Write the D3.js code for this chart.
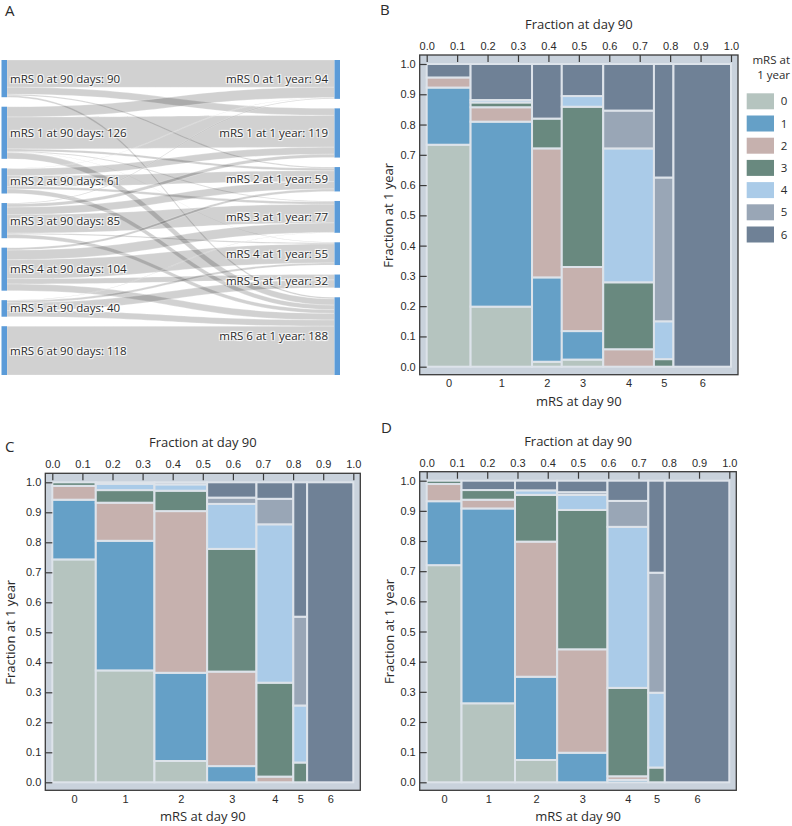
<!DOCTYPE html>
<html>
<head>
<meta charset="utf-8">
<script src="https://cdn.jsdelivr.net/npm/d3@7"></script>
<style>
  html, body { margin: 0; padding: 0; background: #fff; }
  svg { display: block; font-family: "Open Sans", "Noto Sans", sans-serif; }
  .sk-label { text-shadow: 1px 1px 1px #fff, -1px -1px 1px #fff, 1px -1px 1px #fff, -1px 1px 1px #fff; }
</style>
</head>
<body>
<svg id="chart" width="792" height="826"></svg>
<script>
// ---------------- DATA ----------------
const mrsLevels = ["0", "1", "2", "3", "4", "5", "6"];
const levelColors = ["#b5c4bf", "#65a0c7", "#c6b1ae", "#69897f", "#aacbe8", "#99a6b6", "#6f8196"];
const tickValues = [0, 0.1, 0.2, 0.3, 0.4, 0.5, 0.6, 0.7, 0.8, 0.9, 1.0];

// Panel A and B: patients, rows = mRS at 90 days, columns = mRS at 1 year
const transitions = [
  [66, 17, 3, 0, 0, 0, 4],
  [25, 77, 6, 2, 1, 0, 15],
  [1, 17, 26, 6, 0, 0, 11],
  [2, 8, 18, 45, 3, 0, 9],
  [0, 0, 6, 23, 46, 13, 16],
  [0, 0, 0, 1, 5, 19, 15],
  [0, 0, 0, 0, 0, 0, 118]
];

// Panel C: column widths (% at day 90) and % at 1 year within each column
const colWidthC = [14.45, 19.49, 17.50, 16.39, 12.24, 4.59, 15.34];
const segC = [
  [74.3, 19.9, 4.6, 1.2, 0, 0, 0],
  [37.3, 43.2, 12.7, 4.2, 2.1, 0, 0.5],
  [7.1, 29.4, 53.9, 6.8, 2.1, 0, 0.7],
  [0, 5.4, 31.5, 40.9, 15.0, 2.1, 5.1],
  [0, 0, 1.9, 31.3, 52.8, 8.5, 5.5],
  [0, 0, 0, 6.6, 19.0, 29.6, 44.8],
  [0, 0, 0, 0, 0, 0, 100]
];

// Panel D
const colWidthD = [11.51, 17.67, 13.94, 16.63, 13.49, 5.45, 21.31];
const segD = [
  [72.0, 21.2, 5.7, 1.1, 0, 0, 0],
  [26.2, 64.6, 2.9, 3.2, 0, 0, 3.1],
  [7.4, 27.6, 44.8, 15.5, 1.5, 0, 3.2],
  [0, 9.8, 34.3, 46.2, 5.0, 0.9, 3.8],
  [0, 0.8, 1.2, 29.3, 53.4, 8.6, 6.7],
  [0, 0, 0, 4.9, 24.8, 39.8, 30.5],
  [0, 0, 0, 0, 0, 0, 100]
];

// ---------------- DRAW ----------------
const svg = d3.select("#chart");
const textColor = "#2b2b2b";

// Panel letters
[["A", 5, 16], ["B", 380, 15], ["C", 5, 452], ["D", 381, 433]].forEach(([t, x, y]) => {
  svg.append("text").attr("x", x).attr("y", y).attr("font-size", 15)
    .attr("fill", textColor).text(t);
});

// ---------- Panel A: Sankey ----------
(function drawSankey() {
  const g = svg.append("g");
  const n = mrsLevels.length;
  const leftTot = transitions.map(r => d3.sum(r));
  const rightTot = mrsLevels.map((_, j) => d3.sum(transitions, r => r[j]));
  const total = d3.sum(leftTot);
  const y0 = 60, y1 = 375, pad = 9.5;
  const nodeW = 5.5;
  const xL = 1.5, xR = 334.5;
  const k = d3.scaleLinear().domain([0, total]).range([0, (y1 - y0) - pad * (n - 1)]);

  function layout(tots) {
    let y = y0;
    return tots.map(v => { const top = y; y += k(v) + pad; return { top, h: k(v) }; });
  }
  const L = layout(leftTot), R = layout(rightTot);

  const links = [];
  for (let i = 0; i < n; i++) {
    for (let j = 0; j < n; j++) {
      const v = transitions[i][j];
      if (!v) continue;
      links.push({ i, j, v });
    }
  }
  const srcPos = {}, tgtPos = {};
  for (let i = 0; i < n; i++) {
    let off = L[i].top;
    for (let j = 0; j < n; j++) {
      const v = transitions[i][j]; if (!v) continue;
      srcPos[i + "-" + j] = off; off += k(v);
    }
  }
  for (let j = 0; j < n; j++) {
    let off = R[j].top;
    for (let i = 0; i < n; i++) {
      const v = transitions[i][j]; if (!v) continue;
      tgtPos[i + "-" + j] = off; off += k(v);
    }
  }
  const xa = xL + nodeW, xb = xR;
  const xm = (xa + xb) / 2;
  g.append("g").selectAll("path").data(links).join("path")
    .attr("d", d => {
      const key = d.i + "-" + d.j, w = k(d.v);
      const s0 = srcPos[key], s1 = s0 + w, t0 = tgtPos[key], t1 = t0 + w;
      const p = d3.path();
      p.moveTo(xa, s0);
      p.bezierCurveTo(xm, s0, xm, t0, xb, t0);
      p.lineTo(xb, t1);
      p.bezierCurveTo(xm, t1, xm, s1, xa, s1);
      p.closePath();
      return p.toString();
    })
    .attr("fill", "rgba(0,0,0,0.18)")
    .attr("stroke", "rgba(255,255,255,0.5)")
    .attr("stroke-width", 0.5);

  g.append("g").selectAll("rect").data(L).join("rect")
    .attr("x", xL).attr("y", d => d.top).attr("width", nodeW).attr("height", d => d.h)
    .attr("fill", "#5b9bd8");
  g.append("g").selectAll("rect").data(R).join("rect")
    .attr("x", xR).attr("y", d => d.top).attr("width", nodeW).attr("height", d => d.h)
    .attr("fill", "#5b9bd8");

  g.append("g").selectAll("text").data(L).join("text")
    .attr("class", "sk-label")
    .attr("x", 10).attr("y", d => d.top + d.h / 2).attr("dy", "0.35em")
    .attr("font-size", 11.5).attr("fill", textColor)
    .text((d, i) => `mRS ${mrsLevels[i]} at 90 days: ${leftTot[i]}`);
  g.append("g").selectAll("text").data(R).join("text")
    .attr("class", "sk-label")
    .attr("x", 328).attr("y", d => d.top + d.h / 2).attr("dy", "0.35em")
    .attr("text-anchor", "end")
    .attr("font-size", 11.5).attr("fill", textColor)
    .text((d, j) => `mRS ${mrsLevels[j]} at 1 year: ${rightTot[j]}`);
})();

// ---------- Mosaic panels ----------
function drawMosaic(widths, segs, box, ylabX) {
  const [xa, xb, ya, yb] = box;
  const x = d3.scaleLinear().domain([0, 1]).range([xa, xb]);
  const y = d3.scaleLinear().domain([0, 1]).range([yb, ya]);
  const fl = xa - 7, fr = xb + 7, ft = ya - 9, fb = yb + 8;
  const g = svg.append("g");

  g.append("rect").attr("x", fl).attr("y", ft).attr("width", fr - fl).attr("height", fb - ft)
    .attr("fill", "#c9d2dc");

  const wsum = d3.sum(widths);
  const cum = d3.cumsum(widths.map(w => w / wsum));
  const starts = [0, ...cum.slice(0, -1)];

  const rects = [];
  segs.forEach((row, i) => {
    const rs = d3.sum(row);
    let c = 0;
    row.forEach((v, j) => {
      if (v > 0) rects.push({ i, j, x0: starts[i], x1: cum[i], y0: c / rs, y1: (c + v) / rs });
      c += v;
    });
  });
  g.append("g").selectAll("rect").data(rects).join("rect")
    .attr("x", d => x(d.x0)).attr("width", d => x(d.x1) - x(d.x0))
    .attr("y", d => y(d.y1)).attr("height", d => y(d.y0) - y(d.y1))
    .attr("fill", d => levelColors[d.j])
    .attr("stroke", "#dde3ea").attr("stroke-width", 2);

  // frame
  g.append("rect").attr("x", fl).attr("y", ft).attr("width", fr - fl).attr("height", fb - ft)
    .attr("fill", "none").attr("stroke", "#3a3a3a").attr("stroke-width", 1.3);

  // top axis
  const top = g.append("g").attr("transform", `translate(0,${ft})`)
    .call(d3.axisTop(x).tickValues(tickValues).tickFormat(d3.format(".1f")).tickSize(-7).tickPadding(5));
  top.select(".domain").remove();
  top.selectAll("line").attr("stroke", "#3a3a3a").attr("stroke-width", 1.2);
  top.selectAll("text").attr("font-size", 11).attr("fill", textColor).attr("font-family", null);

  // left axis
  const left = g.append("g").attr("transform", `translate(${fl},0)`)
    .call(d3.axisLeft(y).tickValues(tickValues).tickFormat(d3.format(".1f")).tickSize(-7).tickPadding(4));
  left.select(".domain").remove();
  left.selectAll("line").attr("stroke", "#3a3a3a").attr("stroke-width", 1.2);
  left.selectAll("text").attr("font-size", 11).attr("fill", textColor).attr("font-family", null);

  // bottom categorical axis at column centres
  const catPos = d3.scaleOrdinal().domain(mrsLevels)
    .range(mrsLevels.map((_, i) => x((starts[i] + cum[i]) / 2)));
  const bot = g.append("g").attr("transform", `translate(0,${fb})`)
    .call(d3.axisBottom(catPos).tickSize(0).tickPadding(5));
  bot.select(".domain").remove();
  bot.selectAll("text").attr("font-size", 11).attr("fill", textColor).attr("font-family", null);

  const cx = (xa + xb) / 2;
  g.append("text").attr("x", cx).attr("y", ya - 35).attr("text-anchor", "middle")
    .attr("font-size", 13).attr("fill", textColor).text("Fraction at day 90");
  g.append("text").attr("x", cx).attr("y", yb + 39).attr("text-anchor", "middle")
    .attr("font-size", 13).attr("fill", textColor).text("mRS at day 90");
  g.append("text")
    .attr("transform", `translate(${ylabX},${(ya + yb) / 2}) rotate(-90)`)
    .attr("text-anchor", "middle").attr("dy", "0.35em")
    .attr("font-size", 13).attr("fill", textColor).text("Fraction at 1 year");
}

drawMosaic(mrsLevels.map((_, i) => d3.sum(transitions[i])), transitions, [426.7, 731, 64, 366.7], 388.5);
drawMosaic(colWidthC, segC, [52.3, 353.3, 482.3, 782.3], 10.5);
drawMosaic(colWidthD, segD, [426.7, 729.3, 480.7, 782.3], 389);

// ---------- Legend ----------
(function legend() {
  const g = svg.append("g");
  g.append("text").attr("x", 790).attr("y", 64).attr("text-anchor", "end")
    .attr("font-size", 11.5).attr("fill", textColor).text("mRS at");
  g.append("text").attr("x", 790).attr("y", 78.5).attr("text-anchor", "end")
    .attr("font-size", 11.5).attr("fill", textColor).text("1 year");
  const ly = d3.scalePoint().domain(mrsLevels).range([93.3, 93.3 + 6 * 22.2]);
  g.selectAll("rect.sw").data(mrsLevels).join("rect")
    .attr("x", 746.7).attr("y", d => ly(d)).attr("width", 27.3).attr("height", 16)
    .attr("fill", (d, i) => levelColors[i]);
  g.selectAll("text.lb").data(mrsLevels).join("text")
    .attr("x", 784).attr("y", d => ly(d) + 8).attr("dy", "0.35em").attr("text-anchor", "middle")
    .attr("font-size", 11.5).attr("fill", textColor).text(d => d);
})();
</script>
</body>
</html>
